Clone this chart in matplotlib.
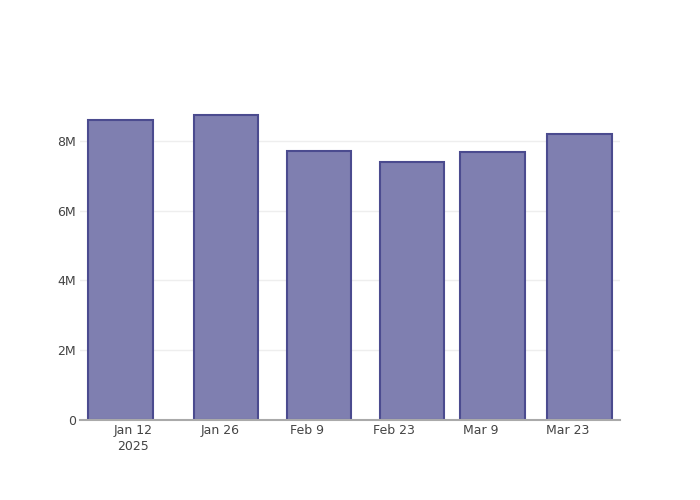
import matplotlib.pyplot as plt
import matplotlib.dates as mdates
import numpy as np
import datetime as dt

# bar dates and values (millions)
dates = ['2025-01-10', '2025-01-27', '2025-02-11', '2025-02-26', '2025-03-11', '2025-03-25']
values = [8.59, 8.73, 7.70, 7.38, 7.67, 8.20]
tick_dates = ['2025-01-12', '2025-01-26', '2025-02-09', '2025-02-23', '2025-03-09', '2025-03-23']
tick_labels = ['Jan 12\n2025', 'Jan 26', 'Feb 9', 'Feb 23', 'Mar 9', 'Mar 23']
y_ticks = [0, 2, 4, 6, 8]
y_labels = ['0', '2M', '4M', '6M', '8M']

x = mdates.date2num([dt.datetime.fromisoformat(d) for d in dates])
xt = mdates.date2num([dt.datetime.fromisoformat(d) for d in tick_dates])
vals = np.array(values) * 1e6

fig = plt.figure(figsize=(7, 5), dpi=100)
ax = fig.add_axes([80 / 700, 80 / 500, 540 / 700, 320 / 500])

width = 0.8 * np.min(np.diff(x))
ax.bar(x, vals, width=width, color='#7f7fb0', edgecolor='#4b4b8f', linewidth=1.5, zorder=3)

ax.set_xlim(x[0] - 6.5, x[-1] + 6.5)
ax.set_ylim(0, max(vals) * 1.05)

ax.set_xticks(xt)
ax.set_xticklabels(tick_labels, fontsize=9, color='#444444', linespacing=1.3)
ax.set_yticks(np.array(y_ticks) * 1e6)
ax.set_yticklabels(y_labels, fontsize=9, color='#444444')
ax.tick_params(axis='both', length=0)
ax.tick_params(axis='x', pad=3)
ax.tick_params(axis='y', pad=3)

ax.grid(axis='y', color='#eeeeee', linewidth=1, zorder=0)
ax.grid(axis='x', visible=False)
for s in ['top', 'right', 'left']:
    ax.spines[s].set_visible(False)
ax.spines['bottom'].set_color('#aaaaaa')
ax.spines['bottom'].set_linewidth(1.5)
ax.spines['bottom'].set_zorder(4)

fig.savefig('out.png', dpi=100)
